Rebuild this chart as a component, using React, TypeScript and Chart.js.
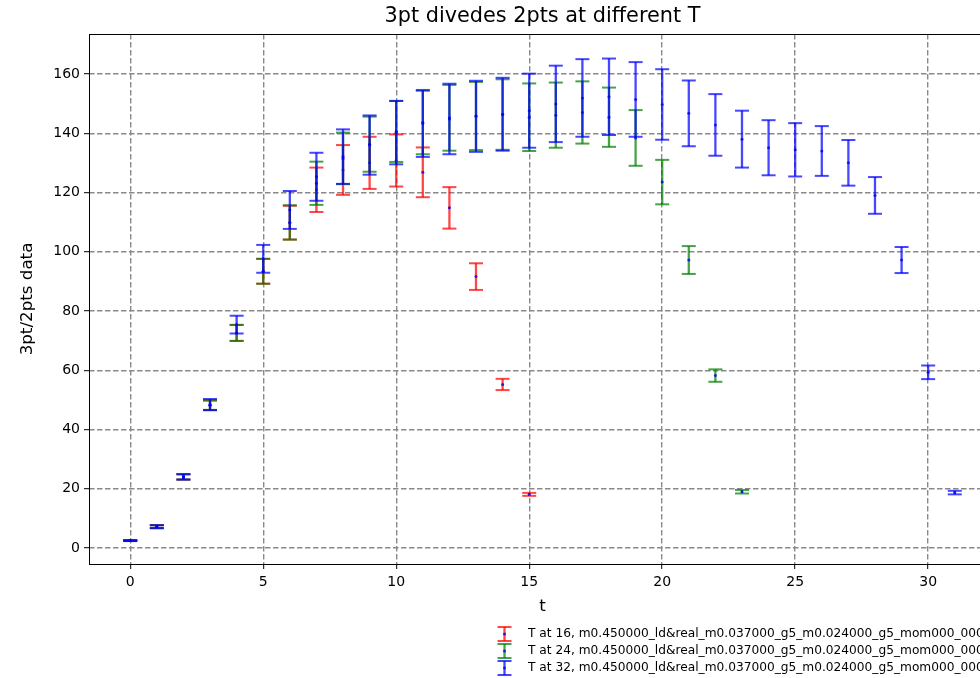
import React, { useEffect, useRef } from 'react';
import { Chart, registerables } from 'chart.js';

Chart.register(...registerables);

// ---- data ----
const tRed = [0, 1, 2, 3, 4, 5, 6, 7, 8, 9, 10, 11, 12, 13, 14, 15];
const meanRed = [2.5, 7.2, 24.0, 48.2, 72.6, 93.4, 109.8, 120.9, 127.6, 130.0, 130.8, 126.8, 114.8, 91.6, 55.2, 18.1];
const errRed = [0.15, 0.5, 0.9, 1.6, 2.7, 4.2, 5.7, 7.5, 8.4, 8.8, 8.8, 8.4, 7.0, 4.5, 1.9, 0.5];

const tGreen = [0, 1, 2, 3, 4, 5, 6, 7, 8, 9, 10, 11, 12, 13, 14, 15, 16, 17, 18, 19, 20, 21, 22, 23];
const meanGreen = [2.5, 7.2, 24.0, 48.2, 72.6, 93.4, 109.9, 123.1, 131.5, 136.3, 140.6, 143.6, 145.2, 145.8, 146.3, 145.4, 146.1, 147.0, 145.4, 138.4, 123.5, 97.2, 58.2, 19.0];
const errGreen = [0.15, 0.5, 0.9, 1.6, 2.7, 4.2, 5.8, 7.3, 8.7, 9.3, 10.3, 10.7, 11.1, 11.5, 11.9, 11.4, 11.0, 10.5, 10.0, 9.4, 7.5, 4.7, 2.1, 0.6];

const tBlue = [0, 1, 2, 3, 4, 5, 6, 7, 8, 9, 10, 11, 12, 13, 14, 15, 16, 17, 18, 19, 20, 21, 22, 23, 24, 25, 26, 27, 28, 29, 30, 31];
const meanBlue = [2.5, 7.2, 24.0, 48.4, 75.4, 97.6, 114.1, 125.3, 132.1, 136.0, 140.2, 143.3, 144.8, 145.7, 146.4, 147.6, 149.9, 151.9, 152.3, 151.4, 149.7, 146.7, 142.8, 138.0, 135.1, 134.4, 134.0, 130.0, 119.0, 97.2, 59.3, 18.7];
const errBlue = [0.15, 0.5, 0.9, 1.9, 3.0, 4.7, 6.4, 8.1, 9.2, 10.0, 10.7, 11.3, 11.9, 12.0, 12.3, 12.5, 12.9, 13.1, 12.9, 12.6, 11.9, 11.1, 10.4, 9.6, 9.3, 9.0, 8.4, 7.7, 6.2, 4.4, 2.3, 0.6];

const xTicks = [0, 5, 10, 15, 20, 25, 30];
const yTicks = [0, 20, 40, 60, 80, 100, 120, 140, 160];

const legendLabels = [
  'T at 16, m0.450000_ld&real_m0.037000_g5_m0.024000_g5_mom000_000',
  'T at 24, m0.450000_ld&real_m0.037000_g5_m0.024000_g5_mom000_000',
  'T at 32, m0.450000_ld&real_m0.037000_g5_m0.024000_g5_mom000_000',
];
const seriesColors = ['rgba(255,0,0,0.72)', 'rgba(0,128,0,0.72)', 'rgba(0,0,255,0.72)'];
const markerColor = 'rgba(0,0,255,0.8)';

const tSets = [tRed, tGreen, tBlue];
const meanSets = [meanRed, meanGreen, meanBlue];
const errSets = [errRed, errGreen, errBlue];

const FONT = 'DejaVu Sans';
const CAP = 7;
const BAR_W = 2.3;

function drawErrorGlyph(ctx: CanvasRenderingContext2D, x: number, yTop: number, yBot: number, color: string) {
  ctx.strokeStyle = color;
  ctx.lineWidth = BAR_W;
  ctx.beginPath();
  ctx.moveTo(x, yTop);
  ctx.lineTo(x, yBot);
  ctx.stroke();
  ctx.lineWidth = 2;
  ctx.beginPath();
  ctx.moveTo(x - CAP, yTop);
  ctx.lineTo(x + CAP, yTop);
  ctx.stroke();
  ctx.beginPath();
  ctx.moveTo(x - CAP, yBot);
  ctx.lineTo(x + CAP, yBot);
  ctx.stroke();
}

const errorBarPlugin = {
  id: 'errorBars',
  beforeDatasetDraw(chart: any, args: any) {
    const i = args.index;
    const { ctx, chartArea: a, scales } = chart;
    const xs = scales.x;
    const ys = scales.y;
    ctx.save();
    ctx.beginPath();
    ctx.rect(a.left, a.top, a.right - a.left, a.bottom - a.top);
    ctx.clip();
    const ts = tSets[i];
    for (let k = 0; k < ts.length; k++) {
      const px = xs.getPixelForValue(ts[k]);
      const yTop = ys.getPixelForValue(meanSets[i][k] + errSets[i][k]);
      const yBot = ys.getPixelForValue(meanSets[i][k] - errSets[i][k]);
      drawErrorGlyph(ctx, px, yTop, yBot, seriesColors[i]);
    }
    ctx.restore();
  },
};

const framePlugin = {
  id: 'frame',
  afterDatasetsDraw(chart: any) {
    const { ctx, chartArea: a } = chart;
    ctx.save();
    ctx.strokeStyle = '#000';
    ctx.lineWidth = 1;
    ctx.strokeRect(Math.round(a.left) + 0.5, Math.round(a.top) + 0.5, Math.round(a.right - a.left), Math.round(a.bottom - a.top));
    ctx.restore();
  },
};

const legendPlugin = {
  id: 'customLegend',
  afterDraw(chart: any) {
    const { ctx } = chart;
    const gx = 504.5;
    const tx = 528;
    const ys = [634, 651, 668];
    ctx.save();
    for (let i = 0; i < legendLabels.length; i++) {
      const cy = ys[i];
      drawErrorGlyph(ctx, gx, cy - 7, cy + 7, seriesColors[i]);
      ctx.fillStyle = markerColor;
      ctx.beginPath();
      ctx.arc(gx, cy, 1.5, 0, Math.PI * 2);
      ctx.fill();
      ctx.fillStyle = '#000';
      ctx.font = `12.2px "${FONT}"`;
      ctx.textBaseline = 'middle';
      ctx.textAlign = 'left';
      ctx.fillText(legendLabels[i], tx, cy);
    }
    ctx.restore();
  },
};

export default function App() {
  const ref = useRef<HTMLCanvasElement | null>(null);

  useEffect(() => {
    if (!ref.current) return;
    const datasets = tSets.map((ts, i) => ({
      label: legendLabels[i],
      data: ts.map((t, k) => ({ x: t, y: meanSets[i][k] })),
      showLine: false,
      pointRadius: 1.5,
      pointHoverRadius: 1.5,
      pointBackgroundColor: markerColor,
      pointBorderWidth: 0,
      borderColor: markerColor,
      order: 3 - i,
    }));

    const tickFont = { family: FONT, size: 14 };
    const gridOpts = {
      color: '#8a8a8a',
      lineWidth: 1.4,
      tickColor: '#000',
      tickLength: 5,
      tickWidth: 1,
      tickBorderDash: [],
    };
    const chart = new Chart(ref.current, {
      type: 'scatter',
      data: { datasets },
      plugins: [errorBarPlugin, framePlugin, legendPlugin],
      options: {
        animation: false,
        responsive: false,
        devicePixelRatio: 1,
        layout: { padding: { left: 0, right: 14, top: 0, bottom: 61 } },
        plugins: {
          legend: { display: false },
          tooltip: { enabled: false },
          title: {
            display: true,
            text: '3pt divedes 2pts at different T',
            fullSize: false,
            color: '#000',
            font: { family: FONT, size: 20.8, weight: 'normal' },
            padding: { top: 4.5, bottom: 4.5 },
          },
        },
        scales: {
          x: {
            type: 'linear',
            position: 'bottom',
            min: -1.55,
            max: 32.55,
            bounds: 'data',
            afterBuildTicks: (s: any) => {
              s.ticks = xTicks.map((v) => ({ value: v }));
            },
            afterFit: (s: any) => {
              s.height = 53;
            },
            ticks: {
              autoSkip: false,
              maxRotation: 0,
              padding: 5,
              color: '#000',
              font: tickFont,
              callback: (v: any) => String(v),
            },
            grid: gridOpts,
            border: { display: false, dash: [5.5, 2.5] },
            title: {
              display: true,
              text: 't',
              color: '#000',
              font: { family: FONT, size: 16.7 },
              padding: { top: 0, bottom: 0 },
            },
          },
          y: {
            type: 'linear',
            position: 'left',
            min: -5.4,
            max: 173.5,
            bounds: 'data',
            afterBuildTicks: (s: any) => {
              s.ticks = yTicks.map((v) => ({ value: v }));
            },
            afterFit: (s: any) => {
              s.width = 89;
            },
            ticks: {
              autoSkip: false,
              padding: 4,
              color: '#000',
              font: tickFont,
              callback: (v: any) => String(v),
            },
            grid: gridOpts,
            border: { display: false, dash: [5.5, 2.5] },
            title: {
              display: true,
              text: '3pt/2pts data',
              color: '#000',
              font: { family: FONT, size: 16.7 },
              padding: { top: 18, bottom: 0 },
            },
          },
        },
      },
    });
    return () => chart.destroy();
  }, []);

  return (
    <div
      style={{
        position: 'fixed',
        left: 0,
        top: 0,
        width: 980,
        height: 678,
        overflow: 'hidden',
        background: '#fff',
      }}
    >
      <canvas ref={ref} width={1010} height={678} style={{ display: 'block', width: 1010, height: 678 }} />
    </div>
  );
}
